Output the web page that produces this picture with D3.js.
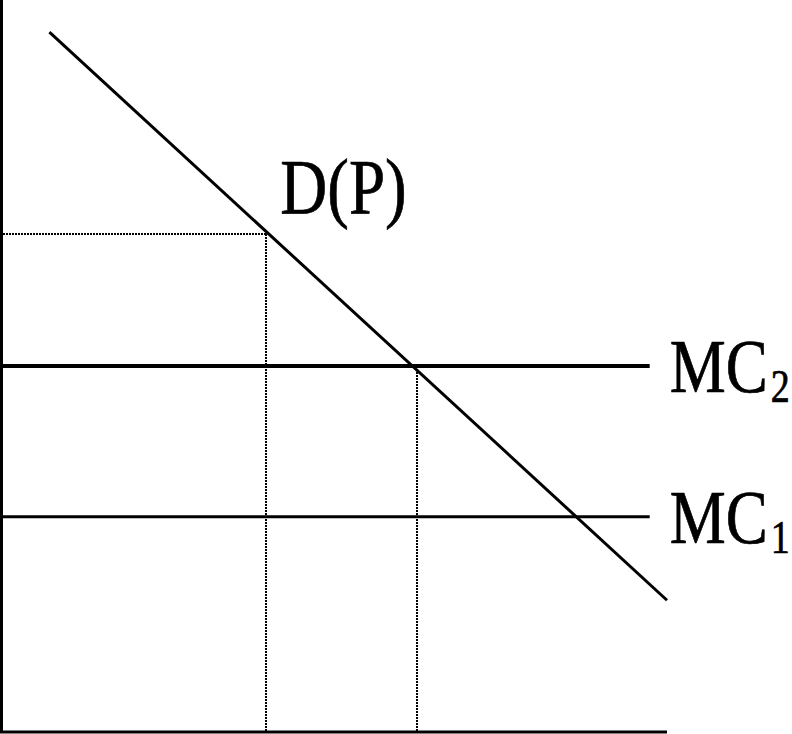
<!DOCTYPE html>
<html>
<head>
<meta charset="utf-8">
<script src="https://cdn.jsdelivr.net/npm/d3@7"></script>
<style>
  html, body { margin: 0; padding: 0; background: #fff; }
  svg { display: block; }
</style>
</head>
<body>
<svg id="chart" width="792" height="734"></svg>
<script>
// ---- data (economic units: quantity Q on x, price P on y) ----
const demandPoints = [ {q: 0.72, p: 9.56}, {q: 10.0, p: 1.80} ];
const mcLevels = [
  {name: "MC", sub: "2", p: 5.0,  qEnd: 9.74},
  {name: "MC", sub: "1", p: 2.94, qEnd: 9.74}
];
const priceGuide = {q: 3.98, p: 6.81};   // dotted price/quantity guide
const quantityGuide = {q: 6.24, p: 5.0}; // dotted quantity at MC2 intersection
const demandLabel = {text: "D(P)", q: 4.19, p: 7.09};
const xDomain = [0, 10];
const yDomain = [0, 10];

// ---- layout ----
const svg = d3.select("#chart");
const x = d3.scaleLinear().domain(xDomain).range([1.5, 667]);
const y = d3.scaleLinear().domain(yDomain).range([732, 0]);
const fontFamily = "'Liberation Serif', 'Times New Roman', serif";
const px = v => Math.round(v);

// axes
svg.append("line")
  .attr("x1", x(0)).attr("y1", y(0)).attr("x2", x(0)).attr("y2", y(10))
  .attr("stroke", "#000").attr("stroke-width", 3);
svg.append("line")
  .attr("x1", 0).attr("y1", y(0)).attr("x2", x(10)).attr("y2", y(0))
  .attr("stroke", "#000").attr("stroke-width", 3);

// dotted guides
const dotted = (x1, y1, x2, y2) => svg.append("line")
  .attr("x1", x1).attr("y1", y1).attr("x2", x2).attr("y2", y2)
  .attr("stroke", "#000").attr("stroke-width", 2)
  .attr("stroke-dasharray", "2,1")
  .attr("shape-rendering", "crispEdges");
dotted(3, px(y(priceGuide.p)), px(x(priceGuide.q)), px(y(priceGuide.p)));
dotted(px(x(priceGuide.q)), px(y(priceGuide.p)), px(x(priceGuide.q)), px(y(0)));
dotted(px(x(quantityGuide.q)), px(y(quantityGuide.p)), px(x(quantityGuide.q)), px(y(0)));

// MC lines
const mcWidths = [4, 3];
mcLevels.forEach((d, i) => {
  svg.append("line")
    .attr("x1", x(0)).attr("y1", y(d.p)).attr("x2", x(d.qEnd)).attr("y2", y(d.p))
    .attr("stroke", "#000").attr("stroke-width", mcWidths[i]);
  const t = svg.append("text")
    .attr("transform", `translate(${x(d.qEnd) + 20},${y(d.p) + 26}) scale(1,1.2)`)
    .attr("font-family", fontFamily).attr("font-size", 63).attr("fill", "#000")
    .attr("stroke", "#000").attr("stroke-width", 0.6);
  t.append("tspan").text(d.name);
  t.append("tspan").attr("dx", 3).attr("dy", 8.5).attr("font-size", 38).text(d.sub);
});

// demand line
const line = d3.line().x(d => x(d.q)).y(d => y(d.p));
svg.append("path")
  .datum(demandPoints)
  .attr("d", line)
  .attr("fill", "none").attr("stroke", "#000").attr("stroke-width", 3);

// demand label
svg.append("text")
  .attr("transform", `translate(${x(demandLabel.q)},${y(demandLabel.p)}) scale(1,1.22)`)
  .attr("font-family", fontFamily).attr("font-size", 65).attr("fill", "#000")
  .attr("stroke", "#000").attr("stroke-width", 0.6)
  .text(demandLabel.text);
</script>
</body>
</html>
